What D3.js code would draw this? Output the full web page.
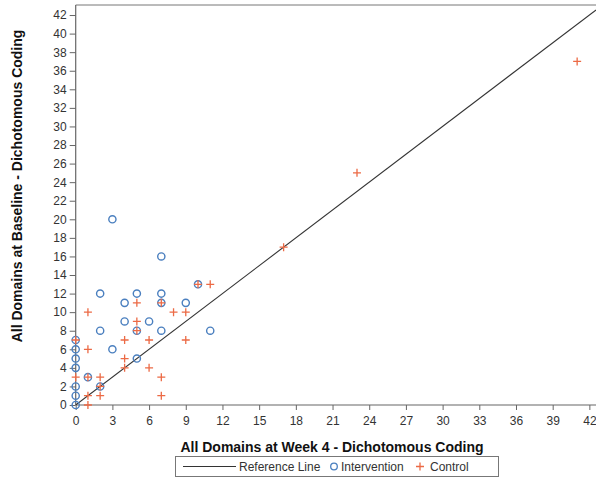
<!DOCTYPE html>
<html>
<head>
<meta charset="utf-8">
<script src="https://cdn.jsdelivr.net/npm/d3@7"></script>
<style>
  html, body { margin: 0; padding: 0; background: #fff; }
  svg { display: block; font-family: "Liberation Sans", Arial, sans-serif; }
</style>
</head>
<body>
<svg id="chart" width="596" height="482"></svg>
<script>
// ---- data ----
const interventionX = [3, 7, 2, 5, 7, 4, 7, 9, 10, 4, 6, 2, 5, 7, 11, 3, 5, 0, 0, 0, 0, 1, 0, 2, 0, 0];
const interventionY = [20, 16, 12, 12, 12, 11, 11, 11, 13, 9, 9, 8, 8, 8, 8, 6, 5, 7, 6, 5, 4, 3, 2, 2, 1, 0];
const controlX = [1, 5, 7, 8, 9, 10, 11, 5, 5, 4, 6, 9, 1, 4, 4, 6, 7, 7, 1, 0, 2, 2, 1, 2, 1, 0, 17, 23, 41];
const controlY = [10, 11, 11, 10, 10, 13, 13, 9, 8, 7, 7, 7, 6, 5, 4, 4, 3, 1, 3, 3, 3, 2, 1, 1, 0, 7, 17, 25, 37];
const xTicks = [0, 3, 6, 9, 12, 15, 18, 21, 24, 27, 30, 33, 36, 39, 42];
const yTicks = [0, 2, 4, 6, 8, 10, 12, 14, 16, 18, 20, 22, 24, 26, 28, 30, 32, 34, 36, 38, 40, 42];
const xTitle = "All Domains at Week 4 - Dichotomous Coding";
const yTitle = "All Domains at Baseline - Dichotomous Coding";
const legendLabels = ["Reference Line", "Intervention", "Control"];

// ---- styles ----
const blue = "#4a7fbf";
const orange = "#ec6a45";
const axisColor = "#666";
const textColor = "#333";

const svg = d3.select("#chart");
const xMax = 42.55, yMax = 43.08;
const x = d3.scaleLinear().domain([0, xMax]).range([75.7, 596.1]);
const y = d3.scaleLinear().domain([0, yMax]).range([405, 5]);

// frame top line
svg.append("line")
  .attr("x1", x(0)).attr("x2", x(xMax))
  .attr("y1", y(yMax)).attr("y2", y(yMax))
  .attr("stroke", "#777").attr("stroke-width", 1);

// axes
const xAxis = svg.append("g").attr("transform", `translate(0,${y(0)})`)
  .call(d3.axisBottom(x).tickValues(xTicks).tickSize(5).tickPadding(6).tickSizeOuter(0));
const yAxis = svg.append("g").attr("transform", `translate(${x(0)},0)`)
  .call(d3.axisLeft(y).tickValues(yTicks).tickSize(6).tickPadding(3).tickSizeOuter(0));
[xAxis, yAxis].forEach(g => {
  g.select(".domain").attr("stroke", axisColor).attr("stroke-width", 1.2);
  g.selectAll(".tick line").attr("stroke", axisColor);
  g.selectAll(".tick text").attr("fill", textColor).attr("font-size", 12)
    .attr("font-family", "'Liberation Sans', Arial, sans-serif");
});
xAxis.select(".domain").attr("d", `M${x(0)},0H${x(xMax)}`);
yAxis.select(".domain").attr("d", `M0,${y(0)}V${y(yMax)}`);

// reference line
svg.append("clipPath").attr("id", "clip").append("rect")
  .attr("x", x(0)).attr("y", y(yMax)).attr("width", x(xMax) - x(0)).attr("height", y(0) - y(yMax));
svg.append("line")
  .attr("clip-path", "url(#clip)")
  .attr("x1", x(0)).attr("y1", y(0))
  .attr("x2", x(xMax)).attr("y2", y(xMax))
  .attr("stroke", "#333").attr("stroke-width", 1.1);

// intervention circles
const iData = interventionX.map((v, i) => [v, interventionY[i]]);
svg.append("g").selectAll("circle").data(iData).join("circle")
  .attr("cx", d => x(d[0])).attr("cy", d => y(d[1])).attr("r", 3.6)
  .attr("fill", "none").attr("stroke", blue).attr("stroke-width", 1.4);

// control plus markers
const cData = controlX.map((v, i) => [v, controlY[i]]);
const plus = "M-4,0H4M0,-4V4";
svg.append("g").selectAll("path").data(cData).join("path")
  .attr("transform", d => `translate(${x(d[0])},${y(d[1])})`)
  .attr("d", plus).attr("fill", "none").attr("stroke", orange).attr("stroke-width", 1.3);

// titles
svg.append("text")
  .attr("x", 332).attr("y", 452)
  .attr("text-anchor", "middle").attr("font-size", 14).attr("font-weight", "bold")
  .attr("fill", "#111").text(xTitle);
svg.append("text")
  .attr("transform", "translate(22,186) rotate(-90)")
  .attr("text-anchor", "middle").attr("font-size", 14).attr("font-weight", "bold")
  .attr("fill", "#111").text(yTitle);

// legend
const lg = svg.append("g");
lg.append("rect").attr("x", 175.5).attr("y", 456.5).attr("width", 323).attr("height", 20)
  .attr("fill", "none").attr("stroke", "#777").attr("stroke-width", 1);
lg.append("line").attr("x1", 183).attr("x2", 236).attr("y1", 466.5).attr("y2", 466.5)
  .attr("stroke", "#333").attr("stroke-width", 1.1);
lg.append("text").attr("x", 239).attr("y", 471).attr("font-size", 12).attr("fill", textColor).text(legendLabels[0]);
lg.append("circle").attr("cx", 334).attr("cy", 466.5).attr("r", 3.3)
  .attr("fill", "none").attr("stroke", blue).attr("stroke-width", 1.3);
lg.append("text").attr("x", 341).attr("y", 471).attr("font-size", 12).attr("fill", textColor).text(legendLabels[1]);
lg.append("path").attr("transform", "translate(420,466.5)").attr("d", plus)
  .attr("stroke", orange).attr("stroke-width", 1.3);
lg.append("text").attr("x", 430).attr("y", 471).attr("font-size", 12).attr("fill", textColor).text(legendLabels[2]);
</script>
</body>
</html>
